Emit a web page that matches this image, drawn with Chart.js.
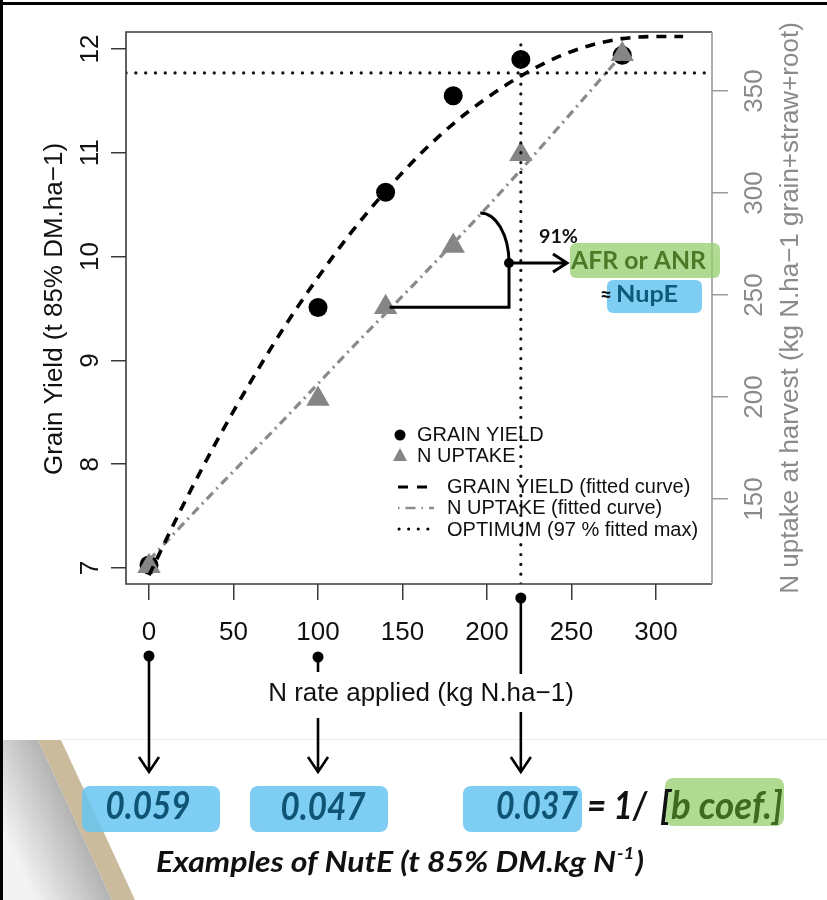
<!DOCTYPE html>
<html>
<head>
<meta charset="utf-8">
<script src="https://cdn.jsdelivr.net/npm/chart.js@4.4.1/dist/chart.umd.min.js"></script>
<style>
  html, body { margin: 0; padding: 0; background: #fff; }
  canvas { display: block; }
</style>
</head>
<body>
<canvas id="chart" width="827" height="900"></canvas>
<script>
// measured points
const nRates = [0, 100, 140, 180, 220, 280];
const grainYield = [7.03, 9.51, 10.62, 11.55, 11.90, 11.94];
const nUptake = [117, 199, 244, 274, 319, 368];

// fitted curves
const yieldFitRates = [0, 20, 40, 60, 80, 100, 120, 140, 160, 180, 200, 220, 240, 260, 280, 300, 316];
const yieldFit = [6.93, 7.60, 8.22, 8.79, 9.32, 9.80, 10.24, 10.63, 10.98, 11.28, 11.53, 11.74, 11.91, 12.03, 12.10, 12.12, 12.12];
const uptakeFitRates = [0, 40, 80, 120, 160, 200, 240, 280];
const uptakeFit = [120, 155, 189, 224, 258, 293, 330, 368];

// optimum = 97 % of fitted max
const optimumYield = 11.77;
const optimumRate = 220;

const xTicks = [0, 50, 100, 150, 200, 250, 300];
const yieldTicks = [7, 8, 9, 10, 11, 12];
const uptakeTicks = [150, 200, 250, 300, 350];

// NutE examples
const nuteRates = [0, 100, 220];
const nuteValues = ['0.059', '0.047', '0.037'];

const xMin = -13.6, xMax = 333.1;
const yMin = 6.846, yMax = 12.164;
const y2Min = 108.3, y2Max = 378.9;

const R_FONT = '"Liberation Sans", Arial, sans-serif';
const C_FONT = 'Lato, "Open Sans", sans-serif';

function pts(xs, ys) {
    return xs.map((x, i) => ({ x: x, y: ys[i] }));
}

function rotText(c, str, x, y, font, color) {
    c.save();
    c.translate(x, y);
    c.rotate(-Math.PI / 2);
    c.font = font;
    c.fillStyle = color;
    c.textAlign = 'center';
    c.textBaseline = 'alphabetic';
    c.fillText(str, 0, 0);
    c.restore();
}

// draws text squeezed/stretched to a given width
function fitText(c, str, x, y, w, font, color, align) {
    c.save();
    c.font = font;
    const m = c.measureText(str).width;
    c.translate(x, y);
    c.scale(w / m, 1);
    c.fillStyle = color;
    c.textAlign = align || 'left';
    c.textBaseline = 'middle';
    c.fillText(str, 0, 0);
    c.restore();
}

function roundBox(c, x, y, w, h, r, color) {
    c.save();
    c.fillStyle = color;
    c.beginPath();
    c.roundRect(x, y, w, h, r);
    c.fill();
    c.restore();
}

function dot(c, x, y, r) {
    c.beginPath();
    c.arc(x, y, r, 0, Math.PI * 2);
    c.fill();
}

function arrowDown(c, x, y1, y2) {
    c.beginPath();
    c.moveTo(x, y1);
    c.lineTo(x, y2);
    c.moveTo(x - 10, y2 - 15);
    c.lineTo(x, y2);
    c.lineTo(x + 10, y2 - 15);
    c.stroke();
}

const decor = {
    id: 'decor',
    beforeDraw(chart) {
        const c = chart.ctx;
        c.save();
        c.fillStyle = '#fff';
        c.fillRect(0, 0, 827, 900);

        // page curl in the bottom-left corner
        const g = c.createLinearGradient(11, 849, 75, 820);
        g.addColorStop(0, '#f3f3f3');
        g.addColorStop(1, '#b3b3b3');
        c.fillStyle = g;
        c.beginPath();
        c.moveTo(3, 740); c.lineTo(38, 740); c.lineTo(112, 900); c.lineTo(3, 900);
        c.closePath();
        c.fill();
        c.fillStyle = '#cbbb9d';
        c.beginPath();
        c.moveTo(38, 740); c.lineTo(61, 740); c.lineTo(135, 900); c.lineTo(112, 900);
        c.closePath();
        c.fill();

        c.fillStyle = '#ececec';
        c.fillRect(61, 739, 766, 1);

        c.fillStyle = '#000';
        c.fillRect(0, 2, 827, 3);
        c.fillRect(0, 0, 3, 900);
        c.restore();
    },
    afterDraw(chart) {
        const c = chart.ctx;
        const a = chart.chartArea;
        const X = v => chart.scales.x.getPixelForValue(v);
        const Y = v => chart.scales.y.getPixelForValue(v);
        const Y2 = v => chart.scales.y2.getPixelForValue(v);
        c.save();

        // plot frame
        c.lineWidth = 1.6;
        c.strokeStyle = '#3a3a3a';
        c.beginPath();
        c.moveTo(a.right, a.top); c.lineTo(a.left, a.top);
        c.lineTo(a.left, a.bottom); c.lineTo(a.right, a.bottom);
        c.stroke();
        c.strokeStyle = '#9a9a9a';
        c.beginPath();
        c.moveTo(a.right, a.top); c.lineTo(a.right, a.bottom);
        c.stroke();

        // rotated tick labels, R style
        chart.scales.y.ticks.forEach(t => {
            rotText(c, String(t.value), 98, Y(t.value), '26px ' + R_FONT, '#111');
        });
        chart.scales.y2.ticks.forEach(t => {
            rotText(c, String(t.value), 762, Y2(t.value), '26px ' + R_FONT, '#8a8a8a');
        });

        // axis titles
        rotText(c, 'Grain Yield (t 85% DM.ha\u22121)', 62, 309, '26px ' + R_FONT, '#111');
        rotText(c, 'N uptake at harvest (kg N.ha\u22121 grain+straw+root)', 798, 308, '26px ' + R_FONT, '#8a8a8a');
        c.font = '26px ' + R_FONT;
        c.fillStyle = '#111';
        c.textAlign = 'center';
        c.textBaseline = 'middle';
        c.fillText('N rate applied (kg N.ha\u22121)', 421, 694);

        // legend
        c.fillStyle = '#000';
        dot(c, 400, 435, 5.5);
        c.fillStyle = '#858585';
        c.beginPath();
        c.moveTo(400, 448); c.lineTo(407, 461); c.lineTo(393, 461);
        c.closePath();
        c.fill();
        c.lineWidth = 3;
        c.strokeStyle = '#000';
        c.setLineDash([10, 9]);
        c.beginPath(); c.moveTo(398, 487); c.lineTo(432, 487); c.stroke();
        c.strokeStyle = '#8c8c8c';
        c.lineWidth = 2.5;
        c.setLineDash([1.5, 6, 10, 6]);
        c.beginPath(); c.moveTo(398, 508); c.lineTo(434, 508); c.stroke();
        c.strokeStyle = '#000';
        c.lineWidth = 3;
        c.lineCap = 'round';
        c.setLineDash([0.1, 9.5]);
        c.beginPath(); c.moveTo(399, 529); c.lineTo(432, 529); c.stroke();
        c.setLineDash([]);
        c.lineCap = 'butt';
        c.font = '20px ' + R_FONT;
        c.fillStyle = '#111';
        c.textAlign = 'left';
        c.fillText('GRAIN YIELD', 417, 435);
        c.fillText('N UPTAKE', 417, 456);
        c.fillText('GRAIN YIELD (fitted curve)', 447, 487);
        c.fillText('N UPTAKE (fitted curve)', 447, 508);
        c.fillText('OPTIMUM (97 % fitted max)', 447, 530);

        // AFR bracket between two uptake points
        const bx = X(213), by = Y2(nUptake[2]);
        const cy = Y2(265.7);
        c.strokeStyle = '#000';
        c.lineWidth = 3;
        c.beginPath();
        c.moveTo(X(nRates[2]) + 4, by);
        c.lineTo(bx, by);
        c.lineTo(bx, cy);
        c.ellipse(X(196), cy, bx - X(196), cy - Y2(290.2), 0, 0, -Math.PI / 2, true);
        c.stroke();
        c.fillStyle = '#000';
        dot(c, bx, cy, 5);
        c.beginPath();
        c.moveTo(bx, cy); c.lineTo(567, cy);
        c.moveTo(553, cy - 9); c.lineTo(567, cy); c.lineTo(553, cy + 9);
        c.stroke();

        fitText(c, '91%', 539, 237, 39, 'bold 18px ' + C_FONT, '#111');
        roundBox(c, 570, 243, 150, 35, 6, 'rgba(150, 205, 110, 0.75)');
        fitText(c, 'AFR or ANR', 571, 261, 135, 'bold 24px ' + C_FONT, '#4a7a26');
        roundBox(c, 607, 280, 95, 33, 6, 'rgba(102, 198, 240, 0.85)');
        fitText(c, '\u2248', 600, 296, 12, 'bold 20px ' + C_FONT, '#111');
        fitText(c, 'NupE', 616, 295, 62, 'bold 23px ' + C_FONT, '#0f5a7a');

        // arrows from the N rates down to the NutE boxes
        c.strokeStyle = '#000';
        c.fillStyle = '#000';
        c.lineWidth = 2.6;
        const x0 = X(nuteRates[0]), x1 = X(nuteRates[1]), x2 = X(nuteRates[2]);
        dot(c, x0, 656, 5.5);
        arrowDown(c, x0, 656, 772);
        dot(c, x1, 657, 5.5);
        c.beginPath(); c.moveTo(x1, 657); c.lineTo(x1, 672); c.stroke();
        arrowDown(c, x1, 718, 772);
        dot(c, x2, 598, 5.5);
        c.beginPath(); c.moveTo(x2, 598); c.lineTo(x2, 674); c.stroke();
        arrowDown(c, x2, 712, 772);

        // NutE boxes
        const blue = 'rgba(102, 198, 240, 0.85)';
        const ink = '#0f5474';
        const big = 'italic bold 39px ' + C_FONT;
        roundBox(c, 82, 786, 138, 46, 8, blue);
        fitText(c, nuteValues[0], 148, 806, 85, big, ink, 'center');
        roundBox(c, 250, 786, 138, 46, 8, blue);
        fitText(c, nuteValues[1], 323, 807, 85, big, ink, 'center');
        roundBox(c, 463, 786, 119, 46, 8, blue);
        fitText(c, nuteValues[2], 537, 806, 82, big, ink, 'center');
        fitText(c, '= 1/', 587, 806, 60, big, '#111');
        roundBox(c, 665, 778, 119, 48, 8, 'rgba(150, 205, 110, 0.75)');
        fitText(c, '[', 660, 806, 11, big, '#111');
        fitText(c, 'b coef.]', 671, 806, 112, big, '#3d6b1f');

        // caption with superscript
        const capFont = 'italic bold 29px ' + C_FONT;
        const supFont = 'italic bold 17px ' + C_FONT;
        c.font = capFont;
        const w1 = c.measureText('Examples of NutE (t 85% DM.kg N').width;
        const w3 = c.measureText(')').width;
        c.font = supFont;
        const w2 = c.measureText('-1').width + 2;
        const s = 488 / (w1 + w2 + w3);
        c.save();
        c.translate(156, 863);
        c.scale(s, 1);
        c.fillStyle = '#111';
        c.textAlign = 'left';
        c.textBaseline = 'middle';
        c.font = capFont;
        c.fillText('Examples of NutE (t 85% DM.kg N', 0, 0);
        c.font = supFont;
        c.fillText('-1', w1 + 1, -9);
        c.font = capFont;
        c.fillText(')', w1 + w2, 0);
        c.restore();

        c.restore();
    }
};

const chart = new Chart(document.getElementById('chart'), {
    type: 'scatter',
    data: {
        datasets: [
            {
                label: 'optimum',
                data: [{ x: xMin, y: optimumYield }, { x: xMax, y: optimumYield }],
                yAxisID: 'y',
                showLine: true,
                borderColor: '#111',
                borderWidth: 3.2,
                borderDash: [0.1, 9.7],
                borderCapStyle: 'round',
                pointRadius: 0,
            },
            {
                label: 'optimum rate',
                data: [{ x: optimumRate, y: yMin }, { x: optimumRate, y: 12.08 }],
                yAxisID: 'y',
                showLine: true,
                borderColor: '#111',
                borderWidth: 3.2,
                borderDash: [0.1, 9.7],
                borderCapStyle: 'round',
                pointRadius: 0,
            },
            {
                label: 'GRAIN YIELD (fitted curve)',
                data: pts(yieldFitRates, yieldFit),
                yAxisID: 'y',
                showLine: true,
                borderColor: '#000',
                borderWidth: 3.6,
                borderDash: [10, 8],
                cubicInterpolationMode: 'monotone',
                pointRadius: 0,
            },
            {
                label: 'N UPTAKE (fitted curve)',
                data: pts(uptakeFitRates, uptakeFit),
                yAxisID: 'y2',
                showLine: true,
                borderColor: '#8a8a8a',
                borderWidth: 3.2,
                borderDash: [9, 5, 2, 5],
                cubicInterpolationMode: 'monotone',
                pointRadius: 0,
            },
            {
                label: 'N UPTAKE',
                data: pts(nRates, nUptake),
                yAxisID: 'y2',
                pointStyle: 'triangle',
                pointRadius: 13.5,
                backgroundColor: '#858585',
                borderWidth: 0,
            },
            {
                label: 'GRAIN YIELD',
                data: pts(nRates, grainYield),
                yAxisID: 'y',
                pointStyle: 'circle',
                pointRadius: 9.5,
                backgroundColor: '#000',
                borderWidth: 0,
            },
        ],
    },
    options: {
        responsive: false,
        animation: false,
        events: [],
        layout: { padding: { top: 32, left: 0, right: 0, bottom: 0 } },
        plugins: {
            legend: { display: false },
            tooltip: { enabled: false },
        },
        scales: {
            x: {
                type: 'linear',
                min: xMin,
                max: xMax,
                afterBuildTicks: s => { s.ticks = xTicks.map(v => ({ value: v })); },
                afterFit: s => { s.height = 316; },
                border: { display: false },
                grid: { drawOnChartArea: false, tickLength: 16, color: '#3a3a3a', lineWidth: 1.5 },
                ticks: {
                    autoSkip: false,
                    maxRotation: 0,
                    padding: 17,
                    color: '#111',
                    font: { family: R_FONT, size: 26 },
                },
            },
            y: {
                position: 'left',
                min: yMin,
                max: yMax,
                afterBuildTicks: s => { s.ticks = yieldTicks.map(v => ({ value: v })); },
                afterFit: s => { s.width = 126; },
                border: { display: false },
                grid: { drawOnChartArea: false, tickLength: 15, color: '#3a3a3a', lineWidth: 1.5 },
                ticks: { display: false },
            },
            y2: {
                position: 'right',
                min: y2Min,
                max: y2Max,
                afterBuildTicks: s => { s.ticks = uptakeTicks.map(v => ({ value: v })); },
                afterFit: s => { s.width = 115; },
                border: { display: false },
                grid: { drawOnChartArea: false, tickLength: 16, color: '#9a9a9a', lineWidth: 1.5 },
                ticks: { display: false },
            },
        },
    },
    plugins: [decor],
});
</script>
</body>
</html>
